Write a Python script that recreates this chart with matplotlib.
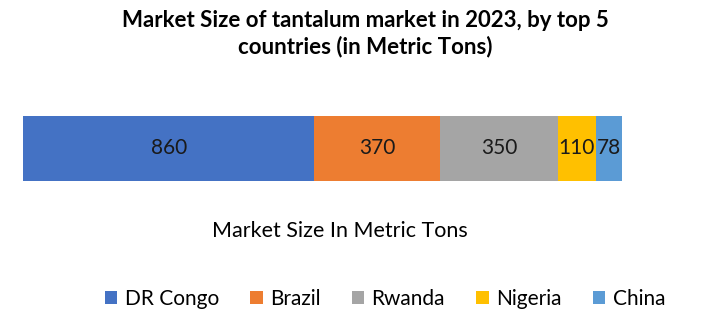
import matplotlib.pyplot as plt

plt.rcParams['font.family'] = ['Lato', 'DejaVu Sans']

countries = ['DR Congo', 'Brazil', 'Rwanda', 'Nigeria', 'China']
values = [860, 370, 350, 110, 78]
colors = ['#4472C4', '#ED7D31', '#A5A5A5', '#FFC000', '#5B9BD5']

fig = plt.figure(figsize=(7.23, 3.22), dpi=100)
ax = fig.add_axes([23 / 723, (322 - 181) / 322, 599 / 723, 65 / 322])

left = 0
for name, v, c in zip(countries, values, colors):
    ax.barh(0, v, left=left, height=1, color=c, label=name)
    ax.text(left + v / 2, 0, str(v), ha='center', va='center', fontsize=15, color='#1a1a1a')
    left += v

ax.set_xlim(0, sum(values))
ax.set_ylim(-0.5, 0.5)
ax.axis('off')

fig.text(0.505, 1 - 34 / 322, 'Market Size of tantalum market in 2023, by top 5\ncountries (in Metric Tons)',
         ha='center', va='center', fontsize=16, fontweight='bold', linespacing=1.25)
fig.text(340 / 723, 1 - 231 / 322, 'Market Size In Metric Tons', ha='center', va='center', fontsize=15.5)

fig.legend(loc='center', bbox_to_anchor=(385 / 723, 1 - 299 / 322), ncol=5, frameon=False,
           fontsize=15, handlelength=0.6, handleheight=0.6, handletextpad=0.35, columnspacing=1.5)

fig.savefig('out.png', dpi=100)
